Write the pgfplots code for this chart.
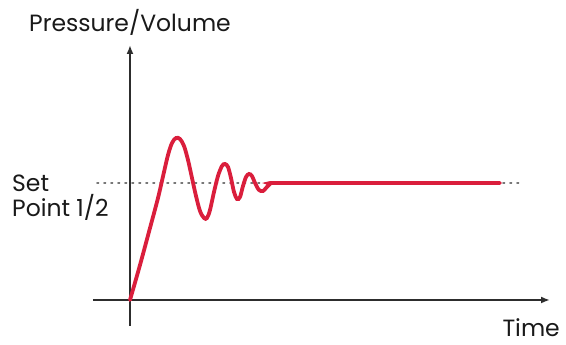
\documentclass[border=0pt]{standalone}
\usepackage{pgfplots}
\pgfplotsset{compat=1.18}
\usepackage{fontspec}
\setmainfont{Poppins}
\usetikzlibrary{arrows.meta}
\definecolor{curvered}{RGB}{218,30,60}
\definecolor{axisgray}{RGB}{45,45,45}
\definecolor{dotgray}{RGB}{120,120,120}
\begin{document}
\begin{tikzpicture}
\begin{axis}[
  x=1pt, y=1pt,
  axis lines=middle,
  xmin=-37, xmax=420, ymin=-26, ymax=255,
  xtick=\empty, ytick=\empty,
  axis line style={line width=1.8pt, color=axisgray, -{Latex[length=9pt,width=7pt]}},
  clip=false,
]
\addplot[dotgray, line width=1.6pt, dash pattern=on 1.6pt off 5.4pt, line cap=round] coordinates {(-33,117) (392,117)};
\addplot[curvered, line width=3.8pt, smooth, tension=0.55, line cap=round] coordinates {
(0,0) (10,35) (20,72) (28,102) (34,128) (38,145) (42,157) (46,162) (50,161) (54,154) (58,140) (62,122) (66,104) (70,89) (74,82) (77,82) (80,90) (84,108) (88,124) (92,134) (95,136) (98,133) (101,122) (104,108) (107,101) (110,103) (113,114) (116,123) (119,126) (122,124) (125,117) (129,110) (133,109) (136,112) (140,116) (144,117) (200,117) (300,117) (370,117)
};
\node[anchor=base, inner sep=0pt, font=\fontsize{23.5}{28}\selectfont, text=black!90] at (axis cs:0,268) {Pressure/Volume};
\node[anchor=base west, inner sep=0pt, font=\fontsize{23.5}{28}\selectfont, text=black!90] at (axis cs:-118,108) {Set};
\node[anchor=base west, inner sep=0pt, font=\fontsize{23.5}{28}\selectfont, text=black!90] at (axis cs:-118,83) {Point 1/2};
\node[anchor=base east, inner sep=0pt, font=\fontsize{23.5}{28}\selectfont, text=black!90] at (axis cs:430,-37) {Time};
\coordinate (bl) at (axis cs:-130,-45);
\coordinate (tr) at (axis cs:436,300);
\end{axis}
\pgfresetboundingbox
\path (bl) rectangle (tr);
\end{tikzpicture}
\end{document}
